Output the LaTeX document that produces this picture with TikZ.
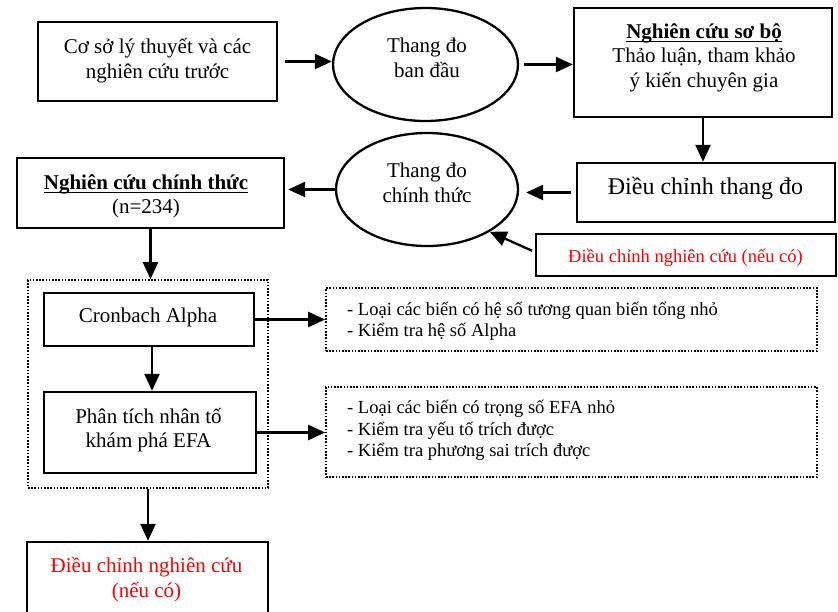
\documentclass[tikz,border=0pt]{standalone}
\usepackage{fontspec}
\setmainfont{Liberation Serif}
\usetikzlibrary{shapes.geometric,arrows.meta}
\newsavebox\myulbox
\newcommand\myul[1]{\sbox\myulbox{#1}\rlap{\rule[-4pt]{\wd\myulbox}{1.6pt}}\usebox\myulbox}
\begin{document}
\begin{tikzpicture}[x=1pt,y=-1pt,
  box/.style={draw, line width=2.3pt, inner sep=0pt},
  ell/.style={draw, ellipse, line width=2.3pt, inner sep=0pt},
  dbox/.style={draw, line width=1.6pt, dash pattern=on 1.6pt off 1.6pt, inner sep=0pt},
  txt/.style={align=center, font=\fontsize{21}{24.5}\selectfont, inner sep=0pt},
  smalltxt/.style={align=left, anchor=west, font=\fontsize{18.5}{21.5}\selectfont, inner sep=0pt},
  arr/.style={line width=2.3pt, -{Triangle[length=17pt,width=15pt]}},
]
\useasboundingbox (0,0) rectangle (838,611);

% shapes
\node[box, minimum width=239pt, minimum height=79pt] (b1) at (157.5,61.5) {};
\node[ell, minimum width=185pt, minimum height=113pt] (e1) at (425.5,64.5) {};
\node[box, minimum width=258pt, minimum height=109pt] (b2) at (703,62.5) {};
\node[box, minimum width=258pt, minimum height=59pt] (b3) at (706,192.5) {};
\node[ell, minimum width=182pt, minimum height=113pt] (e2) at (427,189.5) {};
\node[box, minimum width=267pt, minimum height=70pt] (b4) at (150.5,193) {};
\node[box, minimum width=300pt, minimum height=42pt] (b5) at (686,255) {};
\node[dbox, minimum width=240pt, minimum height=208pt] (dc) at (148,384) {};
\node[box, minimum width=210pt, minimum height=53pt] (c1) at (149,319.5) {};
\node[box, minimum width=212pt, minimum height=81pt] (c2) at (150,432.5) {};
\node[dbox, minimum width=491pt, minimum height=63pt] (d1) at (571.5,319.5) {};
\node[dbox, minimum width=491pt, minimum height=90pt] (d2) at (571.5,432) {};
\node[box, minimum width=241pt, minimum height=78pt] (b6) at (147.5,581) {};

% texts
\node[txt] (t1) at (157.5,60.5) {Cơ sở lý thuyết và các\\nghiên cứu trước};
\node[txt] (te1) at (427,58) {Thang đo\\ban đầu};
\node[txt] (t2) at (704,57.7) {\myul{\textbf{Nghiên cứu sơ bộ}}\\Thảo luận, tham khảo\\ý kiến chuyên gia};
\node[txt, font=\fontsize{24}{28}\selectfont] (t3) at (705.5,188) {Điều chỉnh thang đo};
\node[txt] (te2) at (427,183) {Thang đo\\chính thức};
\node[txt] (t4) at (146,196.5) {\myul{\textbf{Nghiên cứu chính thức}}\\(n=234)};
\node[txt, text=red, font=\fontsize{18.5}{22}\selectfont] (t5) at (685.5,258) {Điều chỉnh nghiên cứu (nếu có)};
\node[txt] (tc1) at (148,317) {Cronbach Alpha};
\node[txt] (tc2) at (148.5,430) {Phân tích nhân tố\\khám phá EFA};
\node[smalltxt] (td1) at (347,321.5) {- Loại các biến có hệ số tương quan biến tổng nhỏ\\- Kiểm tra hệ số Alpha};
\node[smalltxt] (td2) at (347,430.5) {- Loại các biến có trọng số EFA nhỏ\\- Kiểm tra yếu tố trích được\\- Kiểm tra phương sai trích được};
\node[txt, text=red] (t6) at (146.5,579.5) {Điều chỉnh nghiên cứu\\(nếu có)};

% connectors
\draw[arr, shorten <=7pt] (b1.east) -- (b1.east -| e1.west);
\draw[arr, shorten <=5pt] (e1.east) -- (e1.east -| b2.west);
\draw[arr] (b2.south) -- (b2.south |- b3.north);
\draw[arr, shorten <=5pt, shorten >=7pt] (b3.west) -- (b3.west -| e2.east);
\draw[arr, shorten >=3pt] (e2.west) -- (e2.west -| b4.east);
\draw[arr, shorten <=3pt] ([yshift=3pt]b5.west) -- (e2.-34);
\draw[arr] (b4.south) -- (b4.south |- dc.north);
\draw[arr] ([xshift=3pt]c1.south) -- ([xshift=3pt]c1.south |- c2.north);
\draw[arr] (c1.east) -- (c1.east -| d1.west);
\draw[arr] (c2.east) -- (c2.east -| d2.west);
\draw[arr] (dc.south) -- (dc.south |- b6.north);
\end{tikzpicture}
\end{document}
